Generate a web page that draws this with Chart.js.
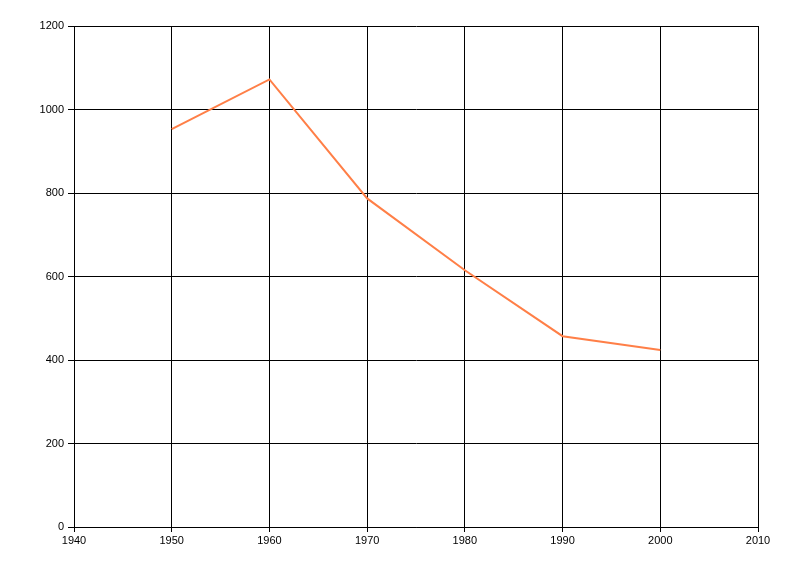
<!DOCTYPE html>
<html>
<head>
<meta charset="utf-8">
<script src="https://cdn.jsdelivr.net/npm/chart.js@4"></script>
<style>
html,body{margin:0;padding:0;background:#fff;}
#wrap{width:800px;height:576px;}
</style>
</head>
<body>
<div id="wrap"><canvas id="c" width="800" height="576"></canvas></div>
<script>
const years = [1950, 1960, 1970, 1980, 1990, 2000];
const values = [953, 1072, 787, 615, 457, 424];
const xTicks = [1940, 1950, 1960, 1970, 1980, 1990, 2000, 2010];
const yTicks = [0, 200, 400, 600, 800, 1000, 1200];

const points = years.map((y, i) => ({x: y, y: values[i]}));

new Chart(document.getElementById('c'), {
  type: 'line',
  data: {
    datasets: [{
      data: points,
      borderColor: '#FF7F47',
      borderWidth: 2,
      pointRadius: 0,
      fill: false,
      tension: 0
    }]
  },
  options: {
    responsive: false,
    animation: false,
    devicePixelRatio: 1,
    layout: {padding: {left: 0, top: 26, right: 42, bottom: 0}},
    plugins: {legend: {display: false}, tooltip: {enabled: false}},
    scales: {
      x: {
        type: 'linear',
        min: xTicks[0], max: xTicks[xTicks.length - 1],
        afterBuildTicks: s => { s.ticks = xTicks.map(v => ({value: v})); },
        afterFit: s => { s.height = 49; },
        border: {color: '#000', width: 1},
        grid: {color: '#000', lineWidth: 1, tickLength: 5, drawTicks: true},
        ticks: {
          color: '#000', padding: 2,
          font: {family: 'Liberation Sans', size: 11},
          callback: v => String(v),
          maxRotation: 0
        }
      },
      y: {
        type: 'linear',
        min: yTicks[0], max: yTicks[yTicks.length - 1],
        afterBuildTicks: s => { s.ticks = yTicks.map(v => ({value: v})); },
        afterFit: s => { s.width = 74; },
        border: {color: '#000', width: 1},
        grid: {color: '#000', lineWidth: 1, tickLength: 6, drawTicks: true},
        ticks: {
          color: '#000', padding: 4,
          font: {family: 'Liberation Sans', size: 11},
          callback: v => String(v)
        }
      }
    }
  }
});
</script>
</body>
</html>
